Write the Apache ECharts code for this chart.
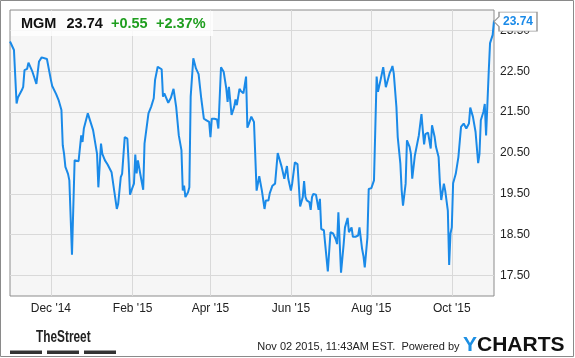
<!DOCTYPE html>
<html><head><meta charset="utf-8">
<script src="https://cdn.jsdelivr.net/npm/echarts@6/dist/echarts.min.js"></script>
<style>html,body{margin:0;padding:0;background:#fff}#c{width:575px;height:358px}</style>
</head><body><div id="c"></div>
<script>
const dates = [
'2014-10-31','2014-11-03','2014-11-05','2014-11-06','2014-11-09','2014-11-10','2014-11-11','2014-11-13','2014-11-14','2014-11-17',
'2014-11-18','2014-11-20','2014-11-21','2014-11-22','2014-11-24','2014-11-28','2014-11-29','2014-12-01','2014-12-02','2014-12-03',
'2014-12-05','2014-12-07','2014-12-09','2014-12-10','2014-12-11','2014-12-12','2014-12-14','2014-12-15','2014-12-17','2014-12-19',
'2014-12-22','2014-12-23','2014-12-24','2014-12-25','2014-12-26','2014-12-29','2014-12-30','2015-01-02','2015-01-05','2015-01-06',
'2015-01-08','2015-01-09','2015-01-11','2015-01-12','2015-01-13','2015-01-14','2015-01-16','2015-01-18','2015-01-20','2015-01-21',
'2015-01-23','2015-01-24','2015-01-26','2015-01-28','2015-01-29','2015-01-30','2015-01-31','2015-02-02','2015-02-03','2015-02-04',
'2015-02-05','2015-02-07','2015-02-09','2015-02-10','2015-02-11','2015-02-13','2015-02-15','2015-02-17','2015-02-18','2015-02-20',
'2015-02-23','2015-02-24','2015-02-25','2015-02-26','2015-02-28','2015-03-02','2015-03-04','2015-03-06','2015-03-08','2015-03-10',
'2015-03-11','2015-03-12','2015-03-13','2015-03-15','2015-03-16','2015-03-17','2015-03-19','2015-03-21','2015-03-23','2015-03-25',
'2015-03-27','2015-03-29','2015-03-31','2015-04-01','2015-04-02','2015-04-04','2015-04-06','2015-04-07','2015-04-09','2015-04-11',
'2015-04-13','2015-04-14','2015-04-15','2015-04-17','2015-04-19','2015-04-20','2015-04-21','2015-04-23','2015-04-24','2015-04-26',
'2015-04-27','2015-04-28','2015-04-29','2015-04-30','2015-05-02','2015-05-04','2015-05-06','2015-05-08','2015-05-10','2015-05-12',
'2015-05-13','2015-05-15','2015-05-16','2015-05-18','2015-05-20','2015-05-22','2015-05-25','2015-05-27','2015-05-28','2015-05-29',
'2015-05-30','2015-06-01','2015-06-02','2015-06-03','2015-06-04','2015-06-06','2015-06-08','2015-06-10','2015-06-11','2015-06-12',
'2015-06-13','2015-06-15','2015-06-16','2015-06-17','2015-06-18','2015-06-20','2015-06-21','2015-06-22','2015-06-23','2015-06-24',
'2015-06-26','2015-06-27','2015-06-29','2015-07-01','2015-07-03','2015-07-05','2015-07-06','2015-07-07','2015-07-09','2015-07-11',
'2015-07-12','2015-07-14','2015-07-15','2015-07-17','2015-07-18','2015-07-20','2015-07-22','2015-07-23','2015-07-25','2015-07-26',
'2015-07-27','2015-07-29','2015-07-30','2015-08-01','2015-08-03','2015-08-05','2015-08-06','2015-08-08','2015-08-10','2015-08-12',
'2015-08-13','2015-08-15','2015-08-16','2015-08-17','2015-08-18','2015-08-20','2015-08-21','2015-08-23','2015-08-24','2015-08-25',
'2015-08-27','2015-08-28','2015-08-29','2015-08-30','2015-08-31','2015-09-01','2015-09-03','2015-09-04','2015-09-06','2015-09-08',
'2015-09-09','2015-09-10','2015-09-11','2015-09-13','2015-09-14','2015-09-15','2015-09-16','2015-09-18','2015-09-19','2015-09-21',
'2015-09-22','2015-09-23','2015-09-25','2015-09-26','2015-09-28','2015-09-29','2015-09-30','2015-10-01','2015-10-02','2015-10-04',
'2015-10-06','2015-10-08','2015-10-10','2015-10-12','2015-10-14','2015-10-15','2015-10-17','2015-10-19','2015-10-20','2015-10-21',
'2015-10-22','2015-10-23','2015-10-25','2015-10-26','2015-10-27','2015-10-29','2015-10-30','2015-11-01','2015-11-02'
];
const prices = [
23.23,23.02,21.71,21.86,22.04,22.12,22.53,22.56,22.71,22.49,
22.39,22.19,22.19,22.74,22.84,22.80,22.78,22.29,22.14,22.11,
21.94,21.78,21.55,20.69,20.48,20.16,19.99,19.83,18.01,20.32,
20.30,20.28,20.93,20.77,21.10,21.47,21.43,21.06,20.48,19.66,
20.73,20.48,20.32,20.36,20.22,20.25,20.03,19.58,19.13,19.25,
19.91,19.99,20.89,20.85,20.24,19.48,19.58,19.75,20.46,20.00,
20.32,19.95,19.60,20.73,20.75,21.47,21.63,21.84,22.29,22.61,
22.55,21.88,21.96,21.94,21.73,21.85,22.07,21.63,20.93,20.57,
19.58,19.70,19.42,19.54,19.66,21.88,22.82,22.57,22.43,21.84,
21.34,21.30,21.26,20.89,21.34,21.34,21.32,21.10,22.60,22.49,
22.08,21.75,22.12,21.43,21.63,21.81,21.67,22.07,22.02,21.96,
21.92,22.37,21.12,21.20,21.39,21.26,19.58,19.93,19.58,19.13,
19.34,19.34,19.52,19.70,19.75,20.50,20.16,19.87,19.91,20.18,
19.87,19.58,19.76,19.73,20.27,20.23,19.19,19.42,19.81,19.43,
19.34,19.30,19.11,19.42,19.50,19.48,19.30,19.11,19.38,18.64,
18.61,18.27,17.60,18.56,18.53,18.39,18.27,19.05,17.57,18.27,
18.68,18.91,18.56,18.68,18.45,18.45,18.48,18.68,18.15,17.98,
17.70,18.43,19.62,19.64,19.83,22.37,22.00,22.29,22.60,22.11,
22.09,22.47,22.53,22.63,22.45,21.63,20.89,20.24,19.58,19.21,
19.75,20.81,20.83,20.65,20.48,19.87,20.44,20.48,20.93,21.45,
21.06,20.71,20.96,21.00,20.98,20.61,21.18,20.89,20.65,20.40,
19.75,19.35,19.75,19.58,19.09,17.76,18.53,18.68,19.76,19.99,
20.40,21.14,21.22,21.10,21.22,21.61,21.39,21.02,20.98,20.25,
20.48,21.30,21.51,21.70,20.93,22.49,23.19,23.39,23.74
];
const yTicks = [17.5, 18.5, 19.5, 20.5, 21.5, 22.5, 23.5];
const xTickDates = ['2014-12-01','2015-02-01','2015-04-01','2015-06-01','2015-08-01','2015-10-01'];
const monthNames = ['Jan','Feb','Mar','Apr','May','Jun','Jul','Aug','Sep','Oct','Nov','Dec'];
const ticker = 'MGM';
const lastPrice = '23.74';
const change = '+0.55';
const changePct = '+2.37%';
const footerText = 'Nov 02 2015, 11:43AM EST.  Powered by';

const FONT = '"Liberation Sans", Arial, sans-serif';
const seriesData = dates.map((d, i) => [Date.parse(d), prices[i]]);
const last = seriesData[seriesData.length - 1];

const chart = echarts.init(document.getElementById('c'), null, {renderer: 'canvas'});
chart.setOption({
  animation: false,
  backgroundColor: '#fff',
  grid: {left: 10, top: 10, width: 484, height: 286, show: true, backgroundColor: '#f6f6f6', borderColor: '#8c8c8c', borderWidth: 1},
  xAxis: {
    type: 'value',
    min: Date.parse(dates[0]),
    max: Date.parse(dates[dates.length - 1]),
    axisLine: {show: false},
    axisTick: {show: false, customValues: xTickDates.map(d => Date.parse(d))},
    axisLabel: {
      customValues: xTickDates.map(d => Date.parse(d)),
      margin: 7, fontSize: 12, color: '#222', fontFamily: FONT,
      formatter: v => { const d = new Date(v); return monthNames[d.getUTCMonth()] + " '" + String(d.getUTCFullYear()).slice(2); }
    },
    splitLine: {show: true, lineStyle: {color: '#d9d9d9', width: 1}}
  },
  yAxis: {
    type: 'value',
    position: 'right',
    min: 17, max: 24,
    axisLine: {show: false},
    axisTick: {show: false, customValues: yTicks},
    axisLabel: {customValues: yTicks, margin: 6, fontSize: 12, color: '#222', fontFamily: FONT, formatter: v => v.toFixed(2)},
    splitLine: {show: true, lineStyle: {color: '#d9d9d9', width: 1}}
  },
  series: [{
    type: 'line',
    data: seriesData,
    showSymbol: false,
    symbol: 'none',
    lineStyle: {color: '#1a8ae8', width: 2},
    markPoint: {
      symbol: 'path://M0,9.5L5,4.5L5,0L43,0L43,19L5,19L5,14.5Z',
      symbolSize: [43, 19],
      symbolOffset: [21.5, 1],
      itemStyle: {color: '#fff', borderColor: '#9a9a9a', borderWidth: 1},
      label: {show: true, position: 'inside', offset: [2.5, 0], color: '#1a8ae8', fontWeight: 'bold', fontSize: 12, fontFamily: FONT,
        formatter: p => p.value.toFixed(2)},
      data: [{coord: last, value: last[1]}]
    }
  }],
  graphic: [
    {type: 'rect', shape: {x: 0.5, y: 0.5, width: 573, height: 356}, style: {fill: 'none', stroke: '#8a8a8a', lineWidth: 1}, silent: true, z: 100},
    {type: 'rect', shape: {x: 11, y: 11, width: 202, height: 25}, style: {fill: 'rgba(255,255,255,0.8)'}, z: 50},
    {type: 'text', x: 21, y: 24, style: {text: ticker, font: 'bold 14.5px ' + FONT, fill: '#111', verticalAlign: 'middle'}, z: 51},
    {type: 'text', x: 66.5, y: 24, style: {text: lastPrice, font: 'bold 14.5px ' + FONT, fill: '#111', verticalAlign: 'middle'}, z: 51},
    {type: 'text', x: 111, y: 24, style: {text: change, font: 'bold 14.5px ' + FONT, fill: '#1f9e1f', verticalAlign: 'middle'}, z: 51},
    {type: 'text', x: 156, y: 24, style: {text: changePct, font: 'bold 14.5px ' + FONT, fill: '#1f9e1f', verticalAlign: 'middle'}, z: 51},
    {type: 'text', x: 36, y: 338, scaleX: 0.74, originX: 0, originY: 0,
      style: {text: 'TheStreet', font: 'bold 16px ' + FONT, fill: '#222', verticalAlign: 'middle'}},
    {type: 'rect', shape: {x: 10, y: 350.5, width: 32, height: 3.5}, style: {fill: '#333'}},
    {type: 'rect', shape: {x: 47, y: 350.5, width: 32, height: 3.5}, style: {fill: '#333'}},
    {type: 'rect', shape: {x: 84, y: 350.5, width: 32, height: 3.5}, style: {fill: '#333'}},
    {type: 'text', x: 459.5, y: 347, style: {text: footerText, font: '11px ' + FONT, fill: '#222', align: 'right', verticalAlign: 'middle'}},
    {type: 'text', x: 463, y: 345, style: {
      text: '{y|Y}{c|CHARTS}', verticalAlign: 'middle',
      rich: {y: {fontSize: 21, fontWeight: 'bold', fontFamily: FONT, fill: '#1c8fe3', color: '#1c8fe3'},
             c: {fontSize: 21, fontWeight: 'bold', fontFamily: FONT, fill: '#111', color: '#111'}}
    }}
  ]
});
</script>
</body></html>
